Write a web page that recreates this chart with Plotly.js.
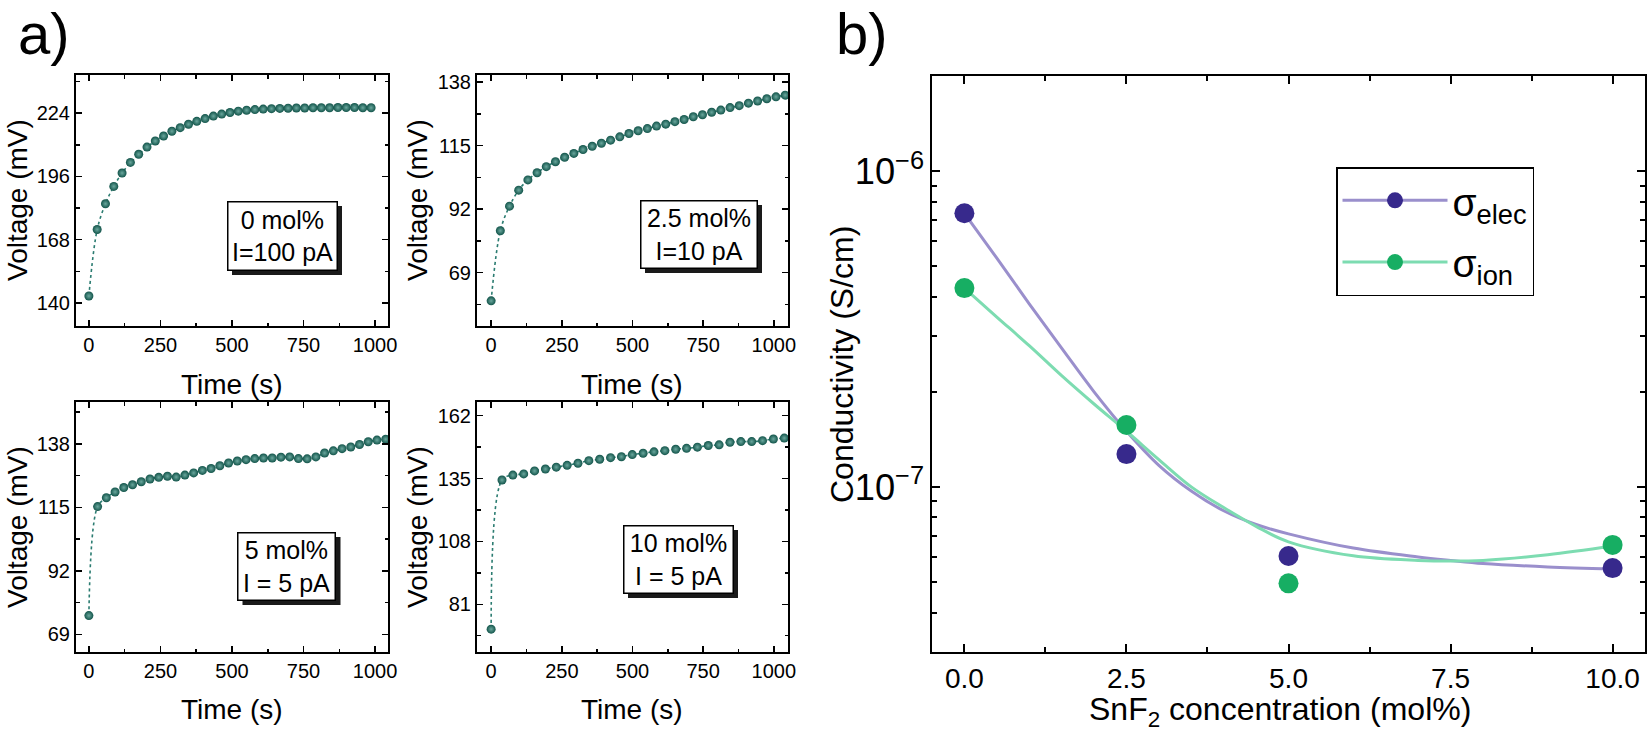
<!DOCTYPE html>
<html>
<head>
<meta charset="utf-8">
<script src="https://cdn.plot.ly/plotly-3.0.1.min.js"></script>
<style>html,body{margin:0;padding:0;background:#fff;}#chart{width:1650px;height:736px;}</style>
</head>
<body>
<div id="chart"></div>
<script>
// ---------- data: panel a (potential vs time) ----------
const time0 = [0,29,58,87,116,145,174,203,232,261,290,319,348,377,406,435,464,493,522,551,580,609,638,667,696,725,754,783,812,841,870,899,928,957,986];
const volt0 = [143.1,172.5,183.9,191.6,197.5,202.2,205.8,209.0,211.7,213.9,216.0,217.6,219.1,220.4,221.6,222.7,223.6,224.3,224.9,225.3,225.6,225.8,226.0,226.1,226.2,226.3,226.3,226.4,226.4,226.4,226.5,226.5,226.5,226.4,226.4];

const time25 = [0,32.5,65,97.5,130,162.5,195,227.5,260,292.5,325,357.5,390,422.5,455,487.5,520,552.5,585,617.5,650,682.5,715,747.5,780,812.5,845,877.5,910,942.5,975,1007.5,1040];
const volt25 = [58.8,84.2,93.1,98.9,102.6,105.2,107.4,109.2,110.8,112.2,113.6,114.8,115.9,117.0,118.2,119.4,120.4,121.2,122.1,122.8,123.7,124.5,125.5,126.2,127.1,127.9,128.8,129.5,130.4,131.2,132.0,132.7,133.3];

const time5 = [0,30.5,61,91.5,122,152.5,183,213.5,244,274.5,305,335.5,366,396.5,427,457.5,488,518.5,549,579.5,610,640.5,671,701.5,732,762.5,793,823.5,854,884.5,915,945.5,976,1006.5,1037];
const volt5 = [75.8,115.3,118.5,120.6,122.2,123.2,124.3,125.3,125.9,126.3,126.0,126.7,127.5,128.4,129.1,130.1,131.1,131.8,132.3,132.7,132.9,132.9,133.2,133.3,132.7,132.6,133.3,134.7,135.5,136.3,136.9,137.8,138.8,139.4,139.7];

const time10 = [0,38.4,76.8,115.2,153.6,192,230.4,268.8,307.2,345.6,384,422.4,460.8,499.2,537.6,576,614.4,652.8,691.2,729.6,768,806.4,844.8,883.2,921.6,960,998.4,1036.8];
const volt10 = [70.3,134.4,136.5,137.0,138.3,139.1,139.9,140.7,141.6,142.7,143.3,144.0,144.4,145.3,145.9,146.5,147.0,147.6,148.0,148.5,149.2,149.5,150.6,150.9,150.9,151.3,152.0,152.4];

const yTicks0 = [140,168,196,224];
const yTicks25 = [69,92,115,138];
const yTicks5 = [69,92,115,138];
const yTicks10 = [81,108,135,162];
const xTicksA = [0,250,500,750,1000];

const boxText = ["0 mol%<br>I=100 pA","2.5 mol%<br>I=10 pA","5 mol%<br>I = 5 pA","10 mol%<br>I = 5 pA"];

// ---------- data: panel b (conductivity) ----------
const conc = [0,2.5,5,10];
const sigmaElec = [7.35e-7,1.27e-7,6.04e-8,5.53e-8];
const sigmaIon = [4.26e-7,1.57e-7,4.95e-8,6.55e-8];
const fitConc = [0,0.5,1,1.5,2,2.5,3,3.5,4,4.5,5,6,7,7.5,8,9,10];
const fitElec = [7.35e-7,5.3e-7,3.8e-7,2.75e-7,2.0e-7,1.5e-7,1.17e-7,9.7e-8,8.4e-8,7.6e-8,7.1e-8,6.4e-8,6.0e-8,5.85e-8,5.72e-8,5.58e-8,5.5e-8];
const fitIon = [4.26e-7,3.45e-7,2.8e-7,2.25e-7,1.83e-7,1.5e-7,1.22e-7,1.0e-7,8.6e-8,7.5e-8,6.7e-8,6.05e-8,5.85e-8,5.82e-8,5.85e-8,6.1e-8,6.5e-8];
const concTicks = [0,2.5,5,7.5,10];

// ---------- styles ----------
const FONT = "Liberation Sans, Arial, sans-serif";
const TEAL = "#12544a";
const PURPLE = "#37298c";
const GREEN = "#17ae63";
const PURPLE_L = "#9a8fcc";
const GREEN_L = "#7ddcb1";

function sphereTrace(x, y, xa, ya) {
  return {
    x: x, y: y, xaxis: xa, yaxis: ya, type: "scatter", mode: "lines+markers",
    line: {color: "#2b7c71", width: 1.6, dash: "dot", shape: "spline"},
    marker: {size: 9, color: TEAL, line: {width: 0},
             gradient: {type: "radial", color: "#6aa79d"}},
    showlegend: false, hoverinfo: "skip"
  };
}

const traces = [
  sphereTrace(time0, volt0, "x", "y"),
  sphereTrace(time25, volt25, "x2", "y2"),
  sphereTrace(time5, volt5, "x3", "y3"),
  sphereTrace(time10, volt10, "x4", "y4"),
  {x: fitConc, y: fitElec, xaxis: "x5", yaxis: "y5", type: "scatter", mode: "lines",
   line: {color: PURPLE_L, width: 3, shape: "spline"}, showlegend: false},
  {x: fitConc, y: fitIon, xaxis: "x5", yaxis: "y5", type: "scatter", mode: "lines",
   line: {color: GREEN_L, width: 3, shape: "spline"}, showlegend: false},
  {x: conc, y: sigmaElec, xaxis: "x5", yaxis: "y5", type: "scatter", mode: "markers",
   marker: {size: 20, color: PURPLE}, showlegend: false},
  {x: conc, y: sigmaIon, xaxis: "x5", yaxis: "y5", type: "scatter", mode: "markers",
   marker: {size: 20, color: GREEN}, showlegend: false},
  {x: [null], y: [null], xaxis: "x5", yaxis: "y5", type: "scatter", mode: "lines+markers",
   name: "σ<sub>elec</sub>", legendgroup: "e", line: {color: PURPLE_L, width: 3}, marker: {size: 20, color: PURPLE}},
  {x: [null], y: [null], xaxis: "x5", yaxis: "y5", type: "scatter", mode: "lines+markers",
   name: "σ<sub>ion</sub>", legendgroup: "i", line: {color: GREEN_L, width: 3}, marker: {size: 20, color: GREEN}}
];

const W = 1650, H = 736;
const px = v => v / W;
const py = v => 1 - v / H;

function axA(domain, range, tickvals, minorStep, anchor) {
  return {
    domain: domain, range: range, anchor: anchor,
    tickmode: "array", tickvals: tickvals,
    ticks: "inside", ticklen: 6, tickwidth: 1.5, tickcolor: "#000",
    showline: true, linewidth: 2, linecolor: "#000", mirror: "ticks",
    showgrid: false, zeroline: false,
    tickfont: {family: FONT, size: 20, color: "#000"},
    minor: {ticks: "inside", ticklen: 3.5, tickwidth: 1.5, tickcolor: "#000",
            dtick: minorStep, tick0: tickvals[0], showgrid: false}
  };
}

const xdLeft = [px(76), px(388)];
const xdRight = [px(477), px(788)];
const ydTop = [py(326), py(75)];
const ydBot = [py(652), py(402)];

const layout = {
  width: W, height: H,
  margin: {l: 0, r: 0, t: 0, b: 0},
  paper_bgcolor: "#fff", plot_bgcolor: "#fff",
  font: {family: FONT, color: "#000"},
  xaxis: axA(xdLeft, [-45, 1045], xTicksA, 125, "y"),
  yaxis: axA(ydTop, [129.8, 240.9], yTicks0, 14, "x"),
  xaxis2: axA(xdRight, [-50, 1050], xTicksA, 125, "y2"),
  yaxis2: axA(ydTop, [49.7, 140.6], yTicks25, 11.5, "x2"),
  xaxis3: axA(xdLeft, [-45, 1045], xTicksA, 125, "y3"),
  yaxis3: axA(ydBot, [62.6, 153.2], yTicks5, 11.5, "x3"),
  xaxis4: axA(xdRight, [-50, 1050], xTicksA, 125, "y4"),
  yaxis4: axA(ydBot, [60.5, 167.9], yTicks10, 13.5, "x4"),
  xaxis5: {
    domain: [px(932), px(1645)], range: [-0.5, 10.5], anchor: "y5",
    tickmode: "array", tickvals: concTicks, ticktext: concTicks.map(v => v.toFixed(1)),
    ticks: "inside", ticklen: 8, tickwidth: 2, tickcolor: "#000",
    showline: true, linewidth: 2.2, linecolor: "#000", mirror: "ticks",
    showgrid: false, zeroline: false,
    tickfont: {family: FONT, size: 28, color: "#000"},
    minor: {ticks: "inside", ticklen: 5, tickwidth: 2, tickcolor: "#000", dtick: 1.25, tick0: 0, showgrid: false}
  },
  yaxis5: {
    domain: [py(652), py(76)], type: "log", range: [Math.log10(3e-8), Math.log10(2e-6)], anchor: "x5",
    dtick: 1, exponentformat: "power",
    ticks: "inside", ticklen: 8, tickwidth: 2, tickcolor: "#000",
    showline: true, linewidth: 2.2, linecolor: "#000", mirror: "ticks",
    showgrid: false, zeroline: false,
    tickfont: {family: FONT, size: 29, color: "#000"},
    minor: {ticks: "inside", ticklen: 5, tickwidth: 2, tickcolor: "#000", dtick: "D1", showgrid: false}
  },
  legend: {
    x: px(1336), y: py(167), xanchor: "left", yanchor: "top",
    bgcolor: "#fff", bordercolor: "#000", borderwidth: 1.5,
    font: {family: FONT, size: 39, color: "#000"},
    itemwidth: 105, tracegroupgap: 8, traceorder: "grouped"
  },
  annotations: [],
  shapes: []
};

const ann = layout.annotations;
// axis titles
const yTitlePos = [[17, 200], [417, 200], [17, 527], [417, 527]];
yTitlePos.forEach(p => ann.push({xref: "paper", yref: "paper", x: px(p[0]), y: py(p[1]),
  text: "Voltage (mV)", textangle: -90, showarrow: false, xanchor: "center", yanchor: "middle",
  font: {family: FONT, size: 28, color: "#000"}}));
const xTitlePos = [[232, 384], [632, 384], [232, 709], [632, 709]];
xTitlePos.forEach(p => ann.push({xref: "paper", yref: "paper", x: px(p[0]), y: py(p[1]),
  text: "Time (s)", showarrow: false, xanchor: "center", yanchor: "middle",
  font: {family: FONT, size: 28, color: "#000"}}));
ann.push({xref: "paper", yref: "paper", x: px(842), y: py(364), text: "Conductivity (S/cm)",
  textangle: -90, showarrow: false, xanchor: "center", yanchor: "middle",
  font: {family: FONT, size: 32, color: "#000"}});
ann.push({xref: "paper", yref: "paper", x: px(1280), y: py(711), text: "SnF<sub>2</sub> concentration (mol%)",
  showarrow: false, xanchor: "center", yanchor: "middle",
  font: {family: FONT, size: 32, color: "#000"}});
// panel letters
ann.push({xref: "paper", yref: "paper", x: px(44), y: 1, text: "a)", showarrow: false,
  xanchor: "center", yanchor: "top", borderpad: 0, font: {family: FONT, size: 58, color: "#000"}});
ann.push({xref: "paper", yref: "paper", x: px(862), y: 1, text: "b)", showarrow: false,
  xanchor: "center", yanchor: "top", borderpad: 0, font: {family: FONT, size: 58, color: "#000"}});
// label boxes with drop shadow (shadow drawn as a pixel-sized rectangle behind the box)
const boxPos = [[282, 235.5], [698.5, 234], [286.5, 566], [678, 559]];
const boxSize = [[110, 69], [117, 68], [98, 68], [110, 68]];
boxPos.forEach((p, i) => {
  const w = boxSize[i][0], h = boxSize[i][1];
  layout.shapes.push({type: "rect", xref: "paper", yref: "paper", layer: "above",
    xsizemode: "pixel", ysizemode: "pixel", xanchor: px(p[0]), yanchor: py(p[1]),
    x0: -w / 2 + 5, x1: w / 2 + 5, y0: -h / 2 - 5, y1: h / 2 - 5,
    fillcolor: "#1a1a1a", line: {width: 0}});
  ann.push({xref: "paper", yref: "paper", x: px(p[0]), y: py(p[1]), text: boxText[i],
    showarrow: false, xanchor: "center", yanchor: "middle", width: w - 2, height: h - 2,
    bgcolor: "#fff", bordercolor: "#000", borderwidth: 1.5, borderpad: 0,
    font: {family: FONT, size: 25, color: "#000"}});
});

Plotly.newPlot("chart", traces, layout, {staticPlot: true, displayModeBar: false});
</script>
</body>
</html>
